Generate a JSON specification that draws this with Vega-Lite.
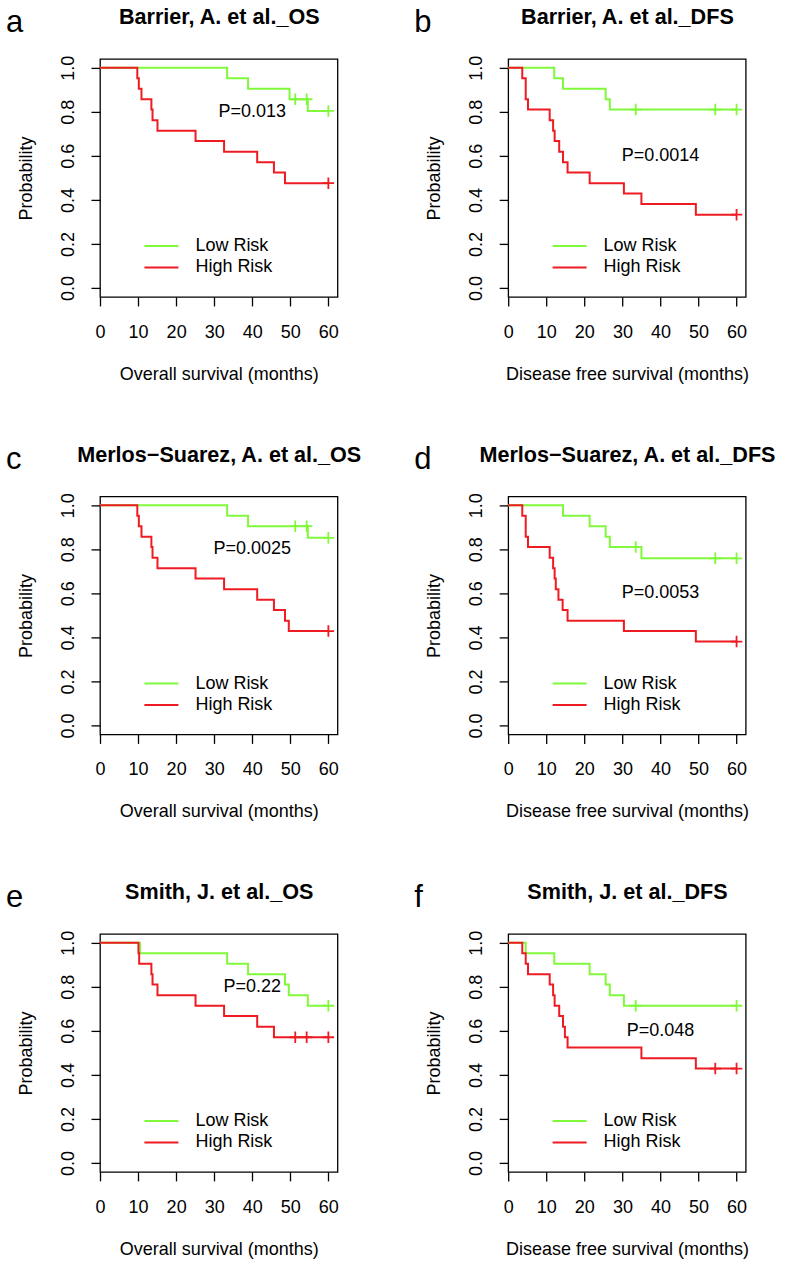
{
  "$schema": "https://vega.github.io/schema/vega-lite/v6.json",
  "background": "white",
  "padding": {"left": 5, "top": 5.9, "right": 5, "bottom": 5},
  "columns": 2,
  "spacing": {"row": 58.5, "column": 51.2},
  "resolve": {"scale": {"color": "independent"}, "legend": {"color": "independent"}},
  "datasets": {
    "km": [
      {"p":"a","g":"Low Risk","t":0,"s":1},{"p":"a","g":"Low Risk","t":33.4,"s":0.952},{"p":"a","g":"Low Risk","t":38.9,"s":0.905},{"p":"a","g":"Low Risk","t":49.8,"s":0.857},{"p":"a","g":"Low Risk","t":51.3,"s":0.857,"c":1},{"p":"a","g":"Low Risk","t":54.3,"s":0.857,"c":1},{"p":"a","g":"Low Risk","t":54.6,"s":0.804},{"p":"a","g":"Low Risk","t":60,"s":0.804,"c":1},
      {"p":"a","g":"High Risk","t":0,"s":1},{"p":"a","g":"High Risk","t":9.8,"s":0.952},{"p":"a","g":"High Risk","t":10.2,"s":0.905},{"p":"a","g":"High Risk","t":10.9,"s":0.857},{"p":"a","g":"High Risk","t":13.5,"s":0.81},{"p":"a","g":"High Risk","t":13.8,"s":0.762},{"p":"a","g":"High Risk","t":15.1,"s":0.714},{"p":"a","g":"High Risk","t":25.1,"s":0.667},{"p":"a","g":"High Risk","t":32.6,"s":0.619},{"p":"a","g":"High Risk","t":41.3,"s":0.571},{"p":"a","g":"High Risk","t":45.7,"s":0.524},{"p":"a","g":"High Risk","t":48.6,"s":0.476},{"p":"a","g":"High Risk","t":60,"s":0.476,"c":1},
      {"p":"b","g":"Low Risk","t":0,"s":1},{"p":"b","g":"Low Risk","t":12.1,"s":0.952},{"p":"b","g":"Low Risk","t":14.4,"s":0.905},{"p":"b","g":"Low Risk","t":25.6,"s":0.857},{"p":"b","g":"Low Risk","t":26.7,"s":0.81},{"p":"b","g":"Low Risk","t":33.5,"s":0.81,"c":1},{"p":"b","g":"Low Risk","t":54.4,"s":0.81,"c":1},{"p":"b","g":"Low Risk","t":60,"s":0.81,"c":1},
      {"p":"b","g":"High Risk","t":0,"s":1},{"p":"b","g":"High Risk","t":3.7,"s":0.952},{"p":"b","g":"High Risk","t":4.6,"s":0.857},{"p":"b","g":"High Risk","t":5.2,"s":0.81},{"p":"b","g":"High Risk","t":10.9,"s":0.762},{"p":"b","g":"High Risk","t":11.8,"s":0.714},{"p":"b","g":"High Risk","t":12.2,"s":0.667},{"p":"b","g":"High Risk","t":13.4,"s":0.619},{"p":"b","g":"High Risk","t":14.4,"s":0.571},{"p":"b","g":"High Risk","t":15.6,"s":0.524},{"p":"b","g":"High Risk","t":21.4,"s":0.476},{"p":"b","g":"High Risk","t":30.4,"s":0.429},{"p":"b","g":"High Risk","t":35,"s":0.381},{"p":"b","g":"High Risk","t":49.3,"s":0.333},{"p":"b","g":"High Risk","t":60,"s":0.333,"c":1},
      {"p":"c","g":"Low Risk","t":0,"s":1},{"p":"c","g":"Low Risk","t":33.4,"s":0.952},{"p":"c","g":"Low Risk","t":38.9,"s":0.905},{"p":"c","g":"Low Risk","t":51.3,"s":0.905,"c":1},{"p":"c","g":"Low Risk","t":54.3,"s":0.905,"c":1},{"p":"c","g":"Low Risk","t":54.6,"s":0.852},{"p":"c","g":"Low Risk","t":60,"s":0.852,"c":1},
      {"p":"c","g":"High Risk","t":0,"s":1},{"p":"c","g":"High Risk","t":9.8,"s":0.952},{"p":"c","g":"High Risk","t":10.2,"s":0.905},{"p":"c","g":"High Risk","t":10.9,"s":0.857},{"p":"c","g":"High Risk","t":13.5,"s":0.81},{"p":"c","g":"High Risk","t":13.8,"s":0.762},{"p":"c","g":"High Risk","t":15.1,"s":0.714},{"p":"c","g":"High Risk","t":25.1,"s":0.667},{"p":"c","g":"High Risk","t":32.6,"s":0.619},{"p":"c","g":"High Risk","t":41.3,"s":0.571},{"p":"c","g":"High Risk","t":45.7,"s":0.524},{"p":"c","g":"High Risk","t":48.6,"s":0.476},{"p":"c","g":"High Risk","t":49.6,"s":0.429},{"p":"c","g":"High Risk","t":60,"s":0.429,"c":1},
      {"p":"d","g":"Low Risk","t":0,"s":1},{"p":"d","g":"Low Risk","t":14.4,"s":0.952},{"p":"d","g":"Low Risk","t":21.4,"s":0.905},{"p":"d","g":"Low Risk","t":25.6,"s":0.857},{"p":"d","g":"Low Risk","t":26.7,"s":0.81},{"p":"d","g":"Low Risk","t":33.5,"s":0.81,"c":1},{"p":"d","g":"Low Risk","t":35,"s":0.759},{"p":"d","g":"Low Risk","t":54.4,"s":0.759,"c":1},{"p":"d","g":"Low Risk","t":60,"s":0.759,"c":1},
      {"p":"d","g":"High Risk","t":0,"s":1},{"p":"d","g":"High Risk","t":3.7,"s":0.952},{"p":"d","g":"High Risk","t":4.6,"s":0.857},{"p":"d","g":"High Risk","t":5.2,"s":0.81},{"p":"d","g":"High Risk","t":10.9,"s":0.762},{"p":"d","g":"High Risk","t":11.8,"s":0.714},{"p":"d","g":"High Risk","t":12.2,"s":0.667},{"p":"d","g":"High Risk","t":12.5,"s":0.619},{"p":"d","g":"High Risk","t":13.2,"s":0.571},{"p":"d","g":"High Risk","t":14.3,"s":0.524},{"p":"d","g":"High Risk","t":15.6,"s":0.476},{"p":"d","g":"High Risk","t":30.4,"s":0.429},{"p":"d","g":"High Risk","t":49.3,"s":0.381},{"p":"d","g":"High Risk","t":60,"s":0.381,"c":1},
      {"p":"e","g":"Low Risk","t":0,"s":1},{"p":"e","g":"Low Risk","t":10.5,"s":0.952},{"p":"e","g":"Low Risk","t":33.4,"s":0.905},{"p":"e","g":"Low Risk","t":38.9,"s":0.857},{"p":"e","g":"Low Risk","t":48.6,"s":0.81},{"p":"e","g":"Low Risk","t":49.6,"s":0.762},{"p":"e","g":"Low Risk","t":54.6,"s":0.714},{"p":"e","g":"Low Risk","t":60,"s":0.714,"c":1},
      {"p":"e","g":"High Risk","t":0,"s":1},{"p":"e","g":"High Risk","t":10.1,"s":0.952},{"p":"e","g":"High Risk","t":10.3,"s":0.905},{"p":"e","g":"High Risk","t":13.5,"s":0.857},{"p":"e","g":"High Risk","t":13.8,"s":0.81},{"p":"e","g":"High Risk","t":15.1,"s":0.762},{"p":"e","g":"High Risk","t":25.1,"s":0.714},{"p":"e","g":"High Risk","t":32.6,"s":0.667},{"p":"e","g":"High Risk","t":41.3,"s":0.619},{"p":"e","g":"High Risk","t":45.7,"s":0.571},{"p":"e","g":"High Risk","t":51.3,"s":0.571,"c":1},{"p":"e","g":"High Risk","t":54.3,"s":0.571,"c":1},{"p":"e","g":"High Risk","t":60,"s":0.571,"c":1},
      {"p":"f","g":"Low Risk","t":0,"s":1},{"p":"f","g":"Low Risk","t":4.6,"s":0.952},{"p":"f","g":"Low Risk","t":12.1,"s":0.905},{"p":"f","g":"Low Risk","t":21.4,"s":0.857},{"p":"f","g":"Low Risk","t":25.6,"s":0.81},{"p":"f","g":"Low Risk","t":26.7,"s":0.762},{"p":"f","g":"Low Risk","t":30.4,"s":0.714},{"p":"f","g":"Low Risk","t":33.5,"s":0.714,"c":1},{"p":"f","g":"Low Risk","t":60,"s":0.714,"c":1},
      {"p":"f","g":"High Risk","t":0,"s":1},{"p":"f","g":"High Risk","t":3.7,"s":0.952},{"p":"f","g":"High Risk","t":4.6,"s":0.905},{"p":"f","g":"High Risk","t":5.2,"s":0.857},{"p":"f","g":"High Risk","t":10.9,"s":0.81},{"p":"f","g":"High Risk","t":11.8,"s":0.762},{"p":"f","g":"High Risk","t":12.2,"s":0.714},{"p":"f","g":"High Risk","t":13.4,"s":0.667},{"p":"f","g":"High Risk","t":14.4,"s":0.619},{"p":"f","g":"High Risk","t":14.9,"s":0.571},{"p":"f","g":"High Risk","t":15.6,"s":0.524},{"p":"f","g":"High Risk","t":35,"s":0.476},{"p":"f","g":"High Risk","t":49.3,"s":0.429},{"p":"f","g":"High Risk","t":54.4,"s":0.429,"c":1},{"p":"f","g":"High Risk","t":60,"s":0.429,"c":1}
    ]
  },
  "concat": [
    {
      "title": "a",
      "width": 237.5, "height": 238,
      "resolve": {"axis": {"x": "independent", "y": "independent"}},
      "layer": [
        {"data": {"name": "km"}, "transform": [{"filter": "datum.p == 'a'"}],
         "mark": {"type": "line", "interpolate": "step-after", "strokeWidth": 2},
         "encoding": {
           "x": {"field": "t", "type": "quantitative", "scale": {"domain": [0, 62.4], "nice": false, "zero": false}, "axis": {"values": [0,10,20,30,40,50,60], "title": "Overall survival (months)"}},
           "y": {"field": "s", "type": "quantitative", "scale": {"domain": [-0.04, 1.04], "nice": false, "zero": false}, "axis": {"values": [0,0.2,0.4,0.6,0.8,1], "format": ".1f", "title": "Probability"}},
           "color": {"field": "g", "type": "nominal", "scale": {"domain": ["Low Risk", "High Risk"], "range": ["#80F93C", "#EE1C22"]}, "legend": {"orient": "none", "legendX": 43.4, "legendY": 178.2}}
         }},
        {"data": {"name": "km"}, "transform": [{"filter": "datum.p == 'a' && datum.c == 1"}],
         "mark": {"type": "point", "shape": "M-1,0L1,0M0,-1L0,1", "filled": false, "size": 132, "strokeWidth": 1.8, "opacity": 1},
         "encoding": {
           "x": {"field": "t", "type": "quantitative", "scale": {"domain": [0, 62.4], "nice": false, "zero": false}, "axis": null},
           "y": {"field": "s", "type": "quantitative", "scale": {"domain": [-0.04, 1.04], "nice": false, "zero": false}, "axis": null},
           "color": {"field": "g", "type": "nominal", "scale": {"domain": ["Low Risk", "High Risk"], "range": ["#80F93C", "#EE1C22"]}, "legend": null}
         }},
        {"data": {"values": [{"label": "P=0.013"}]},
         "mark": {"type": "text", "fontSize": 18, "align": "center", "baseline": "middle", "color": "#000"},
         "encoding": {
           "x": {"datum": 40, "type": "quantitative", "scale": {"domain": [0, 62.4], "nice": false, "zero": false}, "axis": {"orient": "top", "title": "Barrier, A. et al._OS"}},
           "y": {"datum": 0.8, "type": "quantitative", "scale": {"domain": [-0.04, 1.04], "nice": false, "zero": false}, "axis": null},
           "text": {"field": "label"}
         }}
      ]
    },
    {
      "title": "b",
      "width": 237.5, "height": 238,
      "resolve": {"axis": {"x": "independent", "y": "independent"}},
      "layer": [
        {"data": {"name": "km"}, "transform": [{"filter": "datum.p == 'b'"}],
         "mark": {"type": "line", "interpolate": "step-after", "strokeWidth": 2},
         "encoding": {
           "x": {"field": "t", "type": "quantitative", "scale": {"domain": [0, 62.4], "nice": false, "zero": false}, "axis": {"values": [0,10,20,30,40,50,60], "title": "Disease free survival (months)"}},
           "y": {"field": "s", "type": "quantitative", "scale": {"domain": [-0.04, 1.04], "nice": false, "zero": false}, "axis": {"values": [0,0.2,0.4,0.6,0.8,1], "format": ".1f", "title": "Probability"}},
           "color": {"field": "g", "type": "nominal", "scale": {"domain": ["Low Risk", "High Risk"], "range": ["#80F93C", "#EE1C22"]}, "legend": {"orient": "none", "legendX": 43.4, "legendY": 178.2}}
         }},
        {"data": {"name": "km"}, "transform": [{"filter": "datum.p == 'b' && datum.c == 1"}],
         "mark": {"type": "point", "shape": "M-1,0L1,0M0,-1L0,1", "filled": false, "size": 132, "strokeWidth": 1.8, "opacity": 1},
         "encoding": {
           "x": {"field": "t", "type": "quantitative", "scale": {"domain": [0, 62.4], "nice": false, "zero": false}, "axis": null},
           "y": {"field": "s", "type": "quantitative", "scale": {"domain": [-0.04, 1.04], "nice": false, "zero": false}, "axis": null},
           "color": {"field": "g", "type": "nominal", "scale": {"domain": ["Low Risk", "High Risk"], "range": ["#80F93C", "#EE1C22"]}, "legend": null}
         }},
        {"data": {"values": [{"label": "P=0.0014"}]},
         "mark": {"type": "text", "fontSize": 18, "align": "center", "baseline": "middle", "color": "#000"},
         "encoding": {
           "x": {"datum": 40, "type": "quantitative", "scale": {"domain": [0, 62.4], "nice": false, "zero": false}, "axis": {"orient": "top", "title": "Barrier, A. et al._DFS"}},
           "y": {"datum": 0.6, "type": "quantitative", "scale": {"domain": [-0.04, 1.04], "nice": false, "zero": false}, "axis": null},
           "text": {"field": "label"}
         }}
      ]
    },
    {
      "title": "c",
      "width": 237.5, "height": 238,
      "resolve": {"axis": {"x": "independent", "y": "independent"}},
      "layer": [
        {"data": {"name": "km"}, "transform": [{"filter": "datum.p == 'c'"}],
         "mark": {"type": "line", "interpolate": "step-after", "strokeWidth": 2},
         "encoding": {
           "x": {"field": "t", "type": "quantitative", "scale": {"domain": [0, 62.4], "nice": false, "zero": false}, "axis": {"values": [0,10,20,30,40,50,60], "title": "Overall survival (months)"}},
           "y": {"field": "s", "type": "quantitative", "scale": {"domain": [-0.04, 1.04], "nice": false, "zero": false}, "axis": {"values": [0,0.2,0.4,0.6,0.8,1], "format": ".1f", "title": "Probability"}},
           "color": {"field": "g", "type": "nominal", "scale": {"domain": ["Low Risk", "High Risk"], "range": ["#80F93C", "#EE1C22"]}, "legend": {"orient": "none", "legendX": 43.4, "legendY": 178.2}}
         }},
        {"data": {"name": "km"}, "transform": [{"filter": "datum.p == 'c' && datum.c == 1"}],
         "mark": {"type": "point", "shape": "M-1,0L1,0M0,-1L0,1", "filled": false, "size": 132, "strokeWidth": 1.8, "opacity": 1},
         "encoding": {
           "x": {"field": "t", "type": "quantitative", "scale": {"domain": [0, 62.4], "nice": false, "zero": false}, "axis": null},
           "y": {"field": "s", "type": "quantitative", "scale": {"domain": [-0.04, 1.04], "nice": false, "zero": false}, "axis": null},
           "color": {"field": "g", "type": "nominal", "scale": {"domain": ["Low Risk", "High Risk"], "range": ["#80F93C", "#EE1C22"]}, "legend": null}
         }},
        {"data": {"values": [{"label": "P=0.0025"}]},
         "mark": {"type": "text", "fontSize": 18, "align": "center", "baseline": "middle", "color": "#000"},
         "encoding": {
           "x": {"datum": 40, "type": "quantitative", "scale": {"domain": [0, 62.4], "nice": false, "zero": false}, "axis": {"orient": "top", "title": "Merlos−Suarez, A. et al._OS"}},
           "y": {"datum": 0.8, "type": "quantitative", "scale": {"domain": [-0.04, 1.04], "nice": false, "zero": false}, "axis": null},
           "text": {"field": "label"}
         }}
      ]
    },
    {
      "title": "d",
      "width": 237.5, "height": 238,
      "resolve": {"axis": {"x": "independent", "y": "independent"}},
      "layer": [
        {"data": {"name": "km"}, "transform": [{"filter": "datum.p == 'd'"}],
         "mark": {"type": "line", "interpolate": "step-after", "strokeWidth": 2},
         "encoding": {
           "x": {"field": "t", "type": "quantitative", "scale": {"domain": [0, 62.4], "nice": false, "zero": false}, "axis": {"values": [0,10,20,30,40,50,60], "title": "Disease free survival (months)"}},
           "y": {"field": "s", "type": "quantitative", "scale": {"domain": [-0.04, 1.04], "nice": false, "zero": false}, "axis": {"values": [0,0.2,0.4,0.6,0.8,1], "format": ".1f", "title": "Probability"}},
           "color": {"field": "g", "type": "nominal", "scale": {"domain": ["Low Risk", "High Risk"], "range": ["#80F93C", "#EE1C22"]}, "legend": {"orient": "none", "legendX": 43.4, "legendY": 178.2}}
         }},
        {"data": {"name": "km"}, "transform": [{"filter": "datum.p == 'd' && datum.c == 1"}],
         "mark": {"type": "point", "shape": "M-1,0L1,0M0,-1L0,1", "filled": false, "size": 132, "strokeWidth": 1.8, "opacity": 1},
         "encoding": {
           "x": {"field": "t", "type": "quantitative", "scale": {"domain": [0, 62.4], "nice": false, "zero": false}, "axis": null},
           "y": {"field": "s", "type": "quantitative", "scale": {"domain": [-0.04, 1.04], "nice": false, "zero": false}, "axis": null},
           "color": {"field": "g", "type": "nominal", "scale": {"domain": ["Low Risk", "High Risk"], "range": ["#80F93C", "#EE1C22"]}, "legend": null}
         }},
        {"data": {"values": [{"label": "P=0.0053"}]},
         "mark": {"type": "text", "fontSize": 18, "align": "center", "baseline": "middle", "color": "#000"},
         "encoding": {
           "x": {"datum": 40, "type": "quantitative", "scale": {"domain": [0, 62.4], "nice": false, "zero": false}, "axis": {"orient": "top", "title": "Merlos−Suarez, A. et al._DFS"}},
           "y": {"datum": 0.6, "type": "quantitative", "scale": {"domain": [-0.04, 1.04], "nice": false, "zero": false}, "axis": null},
           "text": {"field": "label"}
         }}
      ]
    },
    {
      "title": "e",
      "width": 237.5, "height": 238,
      "resolve": {"axis": {"x": "independent", "y": "independent"}},
      "layer": [
        {"data": {"name": "km"}, "transform": [{"filter": "datum.p == 'e'"}],
         "mark": {"type": "line", "interpolate": "step-after", "strokeWidth": 2},
         "encoding": {
           "x": {"field": "t", "type": "quantitative", "scale": {"domain": [0, 62.4], "nice": false, "zero": false}, "axis": {"values": [0,10,20,30,40,50,60], "title": "Overall survival (months)"}},
           "y": {"field": "s", "type": "quantitative", "scale": {"domain": [-0.04, 1.04], "nice": false, "zero": false}, "axis": {"values": [0,0.2,0.4,0.6,0.8,1], "format": ".1f", "title": "Probability"}},
           "color": {"field": "g", "type": "nominal", "scale": {"domain": ["Low Risk", "High Risk"], "range": ["#80F93C", "#EE1C22"]}, "legend": {"orient": "none", "legendX": 43.4, "legendY": 178.2}}
         }},
        {"data": {"name": "km"}, "transform": [{"filter": "datum.p == 'e' && datum.c == 1"}],
         "mark": {"type": "point", "shape": "M-1,0L1,0M0,-1L0,1", "filled": false, "size": 132, "strokeWidth": 1.8, "opacity": 1},
         "encoding": {
           "x": {"field": "t", "type": "quantitative", "scale": {"domain": [0, 62.4], "nice": false, "zero": false}, "axis": null},
           "y": {"field": "s", "type": "quantitative", "scale": {"domain": [-0.04, 1.04], "nice": false, "zero": false}, "axis": null},
           "color": {"field": "g", "type": "nominal", "scale": {"domain": ["Low Risk", "High Risk"], "range": ["#80F93C", "#EE1C22"]}, "legend": null}
         }},
        {"data": {"values": [{"label": "P=0.22"}]},
         "mark": {"type": "text", "fontSize": 18, "align": "center", "baseline": "middle", "color": "#000"},
         "encoding": {
           "x": {"datum": 40, "type": "quantitative", "scale": {"domain": [0, 62.4], "nice": false, "zero": false}, "axis": {"orient": "top", "title": "Smith, J. et al._OS"}},
           "y": {"datum": 0.8, "type": "quantitative", "scale": {"domain": [-0.04, 1.04], "nice": false, "zero": false}, "axis": null},
           "text": {"field": "label"}
         }}
      ]
    },
    {
      "title": "f",
      "width": 237.5, "height": 238,
      "resolve": {"axis": {"x": "independent", "y": "independent"}},
      "layer": [
        {"data": {"name": "km"}, "transform": [{"filter": "datum.p == 'f'"}],
         "mark": {"type": "line", "interpolate": "step-after", "strokeWidth": 2},
         "encoding": {
           "x": {"field": "t", "type": "quantitative", "scale": {"domain": [0, 62.4], "nice": false, "zero": false}, "axis": {"values": [0,10,20,30,40,50,60], "title": "Disease free survival (months)"}},
           "y": {"field": "s", "type": "quantitative", "scale": {"domain": [-0.04, 1.04], "nice": false, "zero": false}, "axis": {"values": [0,0.2,0.4,0.6,0.8,1], "format": ".1f", "title": "Probability"}},
           "color": {"field": "g", "type": "nominal", "scale": {"domain": ["Low Risk", "High Risk"], "range": ["#80F93C", "#EE1C22"]}, "legend": {"orient": "none", "legendX": 43.4, "legendY": 178.2}}
         }},
        {"data": {"name": "km"}, "transform": [{"filter": "datum.p == 'f' && datum.c == 1"}],
         "mark": {"type": "point", "shape": "M-1,0L1,0M0,-1L0,1", "filled": false, "size": 132, "strokeWidth": 1.8, "opacity": 1},
         "encoding": {
           "x": {"field": "t", "type": "quantitative", "scale": {"domain": [0, 62.4], "nice": false, "zero": false}, "axis": null},
           "y": {"field": "s", "type": "quantitative", "scale": {"domain": [-0.04, 1.04], "nice": false, "zero": false}, "axis": null},
           "color": {"field": "g", "type": "nominal", "scale": {"domain": ["Low Risk", "High Risk"], "range": ["#80F93C", "#EE1C22"]}, "legend": null}
         }},
        {"data": {"values": [{"label": "P=0.048"}]},
         "mark": {"type": "text", "fontSize": 18, "align": "center", "baseline": "middle", "color": "#000"},
         "encoding": {
           "x": {"datum": 40, "type": "quantitative", "scale": {"domain": [0, 62.4], "nice": false, "zero": false}, "axis": {"orient": "top", "title": "Smith, J. et al._DFS"}},
           "y": {"datum": 0.6, "type": "quantitative", "scale": {"domain": [-0.04, 1.04], "nice": false, "zero": false}, "axis": null},
           "text": {"field": "label"}
         }}
      ]
    }
  ],
  "config": {
    "font": "Liberation Sans",
    "view": {"stroke": "#000", "strokeWidth": 1.3},
    "axis": {"labelFont": "Liberation Sans", "titleFont": "Liberation Sans", "labelFontSize": 18, "titleFontSize": 18, "titleFontWeight": "normal", "labelColor": "#000", "titleColor": "#000", "tickColor": "#000", "tickWidth": 1.3, "tickSize": 9, "domain": false, "grid": false, "labelFlush": false, "labelOverlap": false},
    "axisBottom": {"labelBaseline": "alphabetic", "labelPadding": 31.4, "titleX": 118.75, "titleY": 82.4, "titleBaseline": "alphabetic", "titleAlign": "center"},
    "axisLeft": {"labelAngle": -90, "labelAlign": "center", "labelBaseline": "alphabetic", "labelPadding": 18, "titleX": -68.3, "titleY": 119, "titleAngle": 270, "titleAlign": "center", "titleBaseline": "alphabetic"},
    "axisTop": {"labels": false, "ticks": false, "domain": false, "titleFontSize": 21.6, "titleFontWeight": "bold", "titleX": 118.75, "titleY": -35, "titleBaseline": "alphabetic", "titleAlign": "center"},
    "legend": {"title": null, "symbolType": "stroke", "symbolSize": 1156, "symbolStrokeWidth": 2, "labelFont": "Liberation Sans", "labelFontSize": 18, "labelColor": "#000", "labelOffset": 16, "rowPadding": 3.3, "clipHeight": 18, "padding": 0, "symbolOpacity": 1},
    "title": {"font": "Liberation Sans", "fontSize": 31, "fontWeight": "normal", "color": "#000", "anchor": "start", "frame": "bounds", "baseline": "alphabetic", "offset": 0, "dx": -11.6, "dy": 35.7}
  }
}
